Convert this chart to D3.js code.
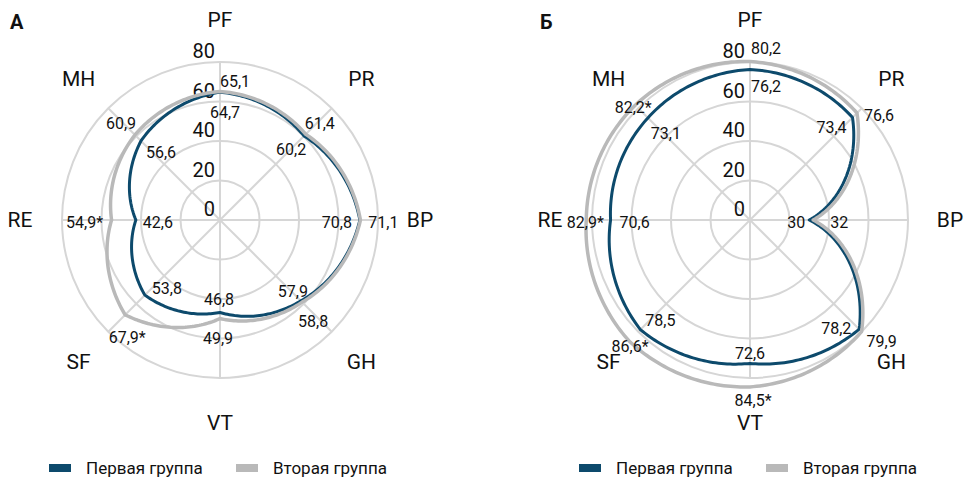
<!DOCTYPE html>
<html>
<head>
<meta charset="utf-8">
<script src="https://cdn.jsdelivr.net/npm/d3@7"></script>
<style>
  html, body { margin: 0; padding: 0; background: #fff; }
  svg text { font-family: Roboto, "Noto Sans", sans-serif; fill: #111; }
</style>
</head>
<body>
<div id="chart"></div>
<script>
// Шкалы SF-36, по часовой стрелке от верха
const scales = ["PF", "PR", "BP", "GH", "VT", "SF", "RE", "MH"];
const ticks = [0, 20, 40, 60, 80];
const groupNames = ["Первая группа", "Вторая группа"];
const panelNames = ["А", "Б"];

// Панель А
const firstA = [64.7, 60.2, 70.8, 57.9, 46.8, 53.8, 42.6, 56.6];
const secondA = [65.1, 61.4, 71.1, 58.8, 49.9, 67.9, 54.9, 60.9];
const starA = [false, false, false, false, false, true, true, false];

// Панель Б
const firstB = [76.2, 73.4, 30, 78.2, 72.6, 78.5, 70.6, 73.1];
const secondB = [80.2, 76.6, 32, 79.9, 84.5, 86.6, 82.9, 82.2];
const starB = [false, false, false, false, true, true, true, true];

// сдвиги подписей значений относительно точки (px)
const nudgeFirstA = [[5, 20], [-13, 13], [-23, 2], [-8, -9], [-1, -13], [22, -7], [22, 2], [20, 11]];
const nudgeSecondA = [[15, -10], [14, -11], [23, 2], [11, 19], [-2, 20], [2, 23], [-27, 2], [-14, -12]];
const nudgeFirstB = [[16, 17], [-21, 10], [-13, 2], [-23, -1], [0, -10], [20, -9], [24, 2], [18, 15]];
const nudgeSecondB = [[16, -13], [22, 2], [26, 2], [20, 10], [3, 14], [1, 5], [-1, 2], [-2, 2]];

const width = 966;
const height = 478;
const colors = ["#0d4a6c", "#b9b9b9"];
const gridColor = "#d6d6d6";

const svg = d3
  .select("#chart")
  .append("svg")
  .attr("width", width)
  .attr("height", height);

const r = d3.scaleLinear().domain([0, 80]).range([0, 158]);
const step = (2 * Math.PI) / scales.length;
const ang = (i) => i * step;
// радиус подписей осей (VT чуть ниже, как в оригинале)
const labelR = (i) => (scales[i] === "VT" ? 203 : 200);

// кривая: радиус меняется линейно по углу между осями (как в полярных графиках)
function curvePolarClosed(context) {
  let pts = [];
  return {
    areaStart() {},
    areaEnd() {},
    lineStart() {
      pts = [];
    },
    point(x, y) {
      pts.push([+x, +y]);
    },
    lineEnd() {
      const n = pts.length;
      const steps = 40;
      pts.forEach((p, i) => {
        const q = pts[(i + 1) % n];
        const r0 = Math.hypot(p[0], p[1]);
        const r1 = Math.hypot(q[0], q[1]);
        const a0 = Math.atan2(p[1], p[0]);
        let da = Math.atan2(q[1], q[0]) - a0;
        while (da > Math.PI) da -= 2 * Math.PI;
        while (da <= -Math.PI) da += 2 * Math.PI;
        for (let k = 0; k < steps; k++) {
          const t = k / steps;
          const rr = r0 + (r1 - r0) * t;
          const aa = a0 + da * t;
          const x = rr * Math.cos(aa);
          const y = rr * Math.sin(aa);
          if (i === 0 && k === 0) context.moveTo(x, y);
          else context.lineTo(x, y);
        }
      });
      context.closePath();
    },
  };
}

const radialLine = d3
  .lineRadial()
  .angle((d, i) => ang(i))
  .radius((d) => r(d))
  .curve(curvePolarClosed);

function fmt(v) {
  return Number.isInteger(v) ? String(v) : v.toFixed(1).replace(".", ",");
}

function drawPanel(cx, cy, name, first, second, stars, nudgeFirst, nudgeSecond) {
  const g = svg.append("g").attr("transform", `translate(${cx},${cy})`);

  // заголовок панели
  svg
    .append("text")
    .attr("x", cx - 210)
    .attr("y", 22)
    .attr("dy", "0.35em")
    .attr("font-size", 20)
    .attr("font-weight", "bold")
    .text(name);

  // круги сетки
  g.selectAll(".ring")
    .data(ticks.filter((t) => t > 0))
    .join("circle")
    .attr("class", "ring")
    .attr("r", (d) => r(d))
    .attr("fill", "none")
    .attr("stroke", gridColor)
    .attr("stroke-width", 2);

  // лучи
  g.selectAll(".spoke")
    .data(scales)
    .join("line")
    .attr("class", "spoke")
    .attr("x1", 0)
    .attr("y1", 0)
    .attr("x2", (d, i) => r(80) * Math.sin(ang(i)))
    .attr("y2", (d, i) => -r(80) * Math.cos(ang(i)))
    .attr("stroke", gridColor)
    .attr("stroke-width", 2);

  // подписи шкалы
  g.selectAll(".tick")
    .data(ticks)
    .join("text")
    .attr("class", "tick")
    .attr("x", -5)
    .attr("y", (d) => -r(d) - 4)
    .attr("text-anchor", "end")
    .attr("font-size", 20)
    .text((d) => d);

  // названия осей
  g.selectAll(".axis-label")
    .data(scales)
    .join("text")
    .attr("class", "axis-label")
    .attr("x", (d, i) => labelR(i) * Math.sin(ang(i)))
    .attr("y", (d, i) => -labelR(i) * Math.cos(ang(i)))
    .attr("dy", "0.35em")
    .attr("text-anchor", "middle")
    .attr("font-size", 21)
    .text((d) => d);

  // линии групп: сначала первая, вторая поверх
  [first, second].forEach((vals, k) => {
    g.append("path")
      .datum(vals)
      .attr("d", radialLine)
      .attr("fill", "none")
      .attr("stroke", colors[k])
      .attr("stroke-width", k === 0 ? 3 : 3.5)
      .attr("stroke-linejoin", "round");
  });

  // подписи значений
  const labels = [];
  first.forEach((v, i) => labels.push({ v, i, star: false, nudge: nudgeFirst[i] }));
  second.forEach((v, i) => labels.push({ v, i, star: stars[i], nudge: nudgeSecond[i] }));

  g.selectAll(".val")
    .data(labels)
    .join("text")
    .attr("class", "val")
    .attr("x", (d) => r(d.v) * Math.sin(ang(d.i)) + d.nudge[0])
    .attr("y", (d) => -r(d.v) * Math.cos(ang(d.i)) + d.nudge[1])
    .attr("dy", "0.35em")
    .attr("text-anchor", "middle")
    .attr("font-size", 16)
    .text((d) => fmt(d.v) + (d.star ? "*" : ""));

  // легенда
  const lg = svg.append("g").attr("transform", `translate(${cx},${468})`);
  const offs = [-171, 16];
  groupNames.forEach((nm, k) => {
    lg.append("rect")
      .attr("x", offs[k])
      .attr("y", -4)
      .attr("width", 22)
      .attr("height", 8)
      .attr("fill", colors[k]);
    lg.append("text")
      .attr("x", offs[k] + 37)
      .attr("y", 0)
      .attr("dy", "0.35em")
      .attr("font-size", 17)
      .text(nm);
  });
}

drawPanel(220, 220, panelNames[0], firstA, secondA, starA, nudgeFirstA, nudgeSecondA);
drawPanel(750, 220, panelNames[1], firstB, secondB, starB, nudgeFirstB, nudgeSecondB);
</script>
</body>
</html>
